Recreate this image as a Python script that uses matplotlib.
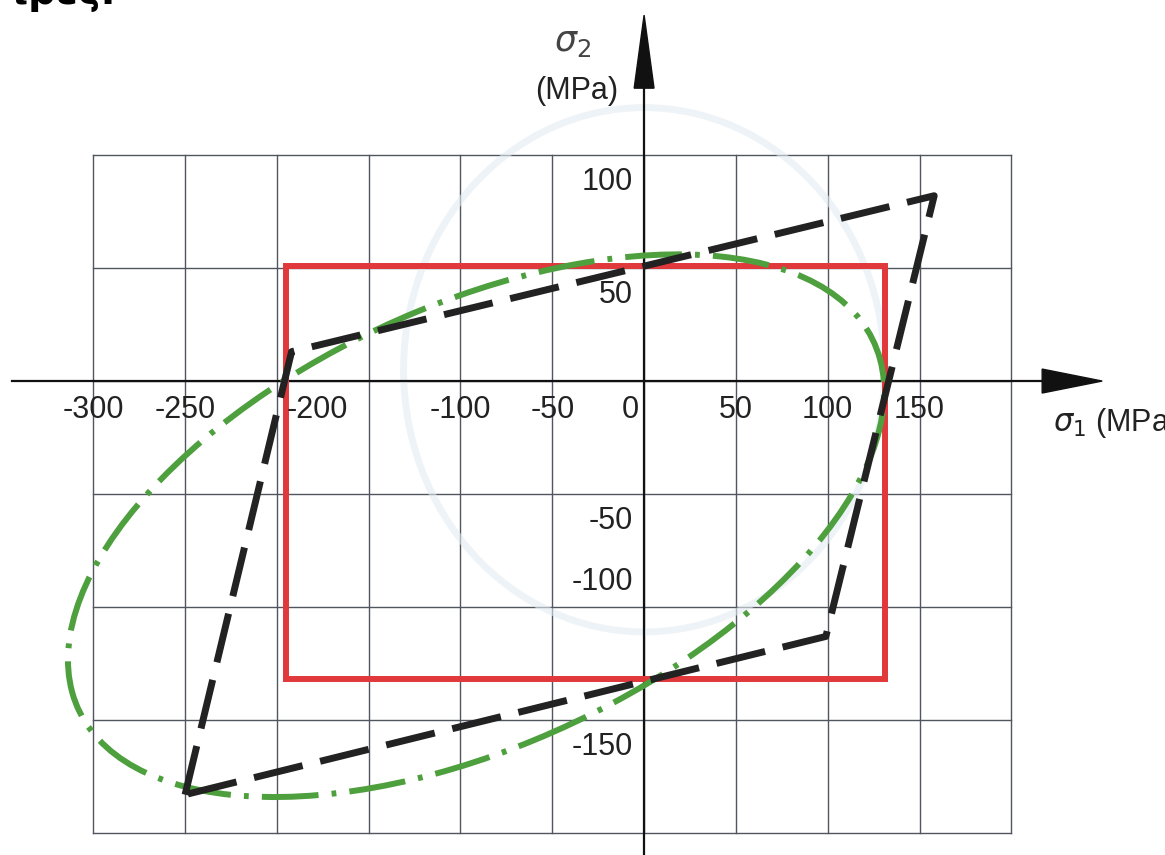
import matplotlib
matplotlib.use('Agg')
import matplotlib.pyplot as plt
from matplotlib import font_manager
from matplotlib.patches import Ellipse, Rectangle, Polygon

#=====================================================================================
# values (MPa)

x_ticks = [-300, -250, -200, -100, -50, 0, 50, 100, 150]
y_ticks = [100, 50, -50, -100, -150]
grid_x = [-300, -250, -200, -150, -100, -50, 0, 50, 100, 150, 200]
grid_y = [100, 50, 0, -50, -100, -150, -200]

# max stress rectangle
rect_s1 = [-195, 131]
rect_s2 = [-132, 51]

# green ellipse (centre, full axes, tilt in degrees)
ell_center = (-91.5, -64)
ell_width = 464
ell_height = 200
ell_angle = 18.5

# dashed black envelope
poly_s1 = [-250, -192, 158, 99, -250]
poly_s2 = [-183, 13, 82, -113, -183]

# faint erased circle in the background
ghost_center = (0, 5)
ghost_w = 262
ghost_h = 232

#=====================================================================================

names = set(f.name for f in font_manager.fontManager.ttflist)
if 'Liberation Sans Narrow' in names:
    fam = ['Liberation Sans Narrow', 'DejaVu Sans']
    fs = 26
else:
    fam = ['Liberation Sans', 'DejaVu Sans']
    fs = 22
plt.rcParams['font.family'] = fam

fig = plt.figure(figsize=(11.65, 8.55), dpi=100)
ax = fig.add_axes([0, 0, 1, 1])
ax.axis('off')
ax.set_xlim(-350.8, 283.7)
ax.set_ylim(-209.7, 168.6)

# grid
for gx in grid_x:
    ax.plot([gx, gx], [grid_y[-1], grid_y[0]], color='#505560', lw=1.0, zorder=1)
for gy in grid_y:
    ax.plot([grid_x[0], grid_x[-1]], [gy, gy], color='#505560', lw=1.0, zorder=1)

# faint blue remains (barely visible in the scan)
ax.add_patch(Ellipse(ghost_center, ghost_w, ghost_h, fill=False, ec='#e4ecf3',
                     lw=5, alpha=0.6, zorder=1.5))

# axes with arrows
ax.plot([-344, 217], [0, 0], color='#111111', lw=1.6, zorder=2)
ax.plot([0, 0], [-210, 130], color='#111111', lw=1.6, zorder=2)
ax.add_patch(Polygon([[216.8, 5.3], [249.5, 0], [216.8, -5.3]], closed=True,
                     fc='#111111', ec='#111111', zorder=2))
ax.add_patch(Polygon([[-5.4, 129.6], [0, 161.9], [5.4, 129.6]], closed=True,
                     fc='#111111', ec='#111111', zorder=2))

# red rectangle
ax.add_patch(Rectangle((rect_s1[0], rect_s2[0]), rect_s1[1] - rect_s1[0],
                       rect_s2[1] - rect_s2[0], fill=False, ec='#e0383b',
                       lw=4.3, joinstyle='miter', zorder=3))

# green dash-dot ellipse
ax.add_patch(Ellipse(ell_center, ell_width, ell_height, angle=ell_angle, fill=False,
                     ec='#4e9f3d', lw=4.3, linestyle=(0, (9.5, 2.2, 0.8, 2.2)),
                     zorder=4))

# black dashed polygon
ax.plot(poly_s1, poly_s2, color='#222222', lw=5, linestyle=(0, (7.2, 2.6)),
        solid_joinstyle='miter', zorder=5)

# tick labels
for v in x_ticks:
    xp = v
    ha = 'center'
    if v == -200:
        xp = v + 22
    if v == 0:
        xp = -3
        ha = 'right'
    ax.text(xp, -12.8, '%d' % v, fontsize=fs, ha=ha, va='center', color='#222222',
            zorder=6)
for v in y_ticks:
    off = -12
    if v == -100:
        off = 11
    ax.text(-6, v + off, '%d' % v, fontsize=fs, ha='right', va='center',
            color='#222222', zorder=6)

# axis titles
ax.text(-39, 150, r'$\sigma_2$', fontsize=fs + 3, ha='center', va='center',
        color='#444444')
ax.text(-36.5, 128.3, '(MPa)', fontsize=fs, ha='center', va='center', color='#222222')
ax.text(222.8, -18.5, r'$\sigma_1$' + ' (MPa)', fontsize=fs, ha='left', va='center',
        color='#222222')

# bit of text cut off at the top
fig.text(13 / 1165, 1 - 4 / 855, 'ιρες.', fontsize=28, fontweight='bold',
         ha='left', va='baseline', family=['DejaVu Sans'])

plt.savefig('out.png', dpi=100)
